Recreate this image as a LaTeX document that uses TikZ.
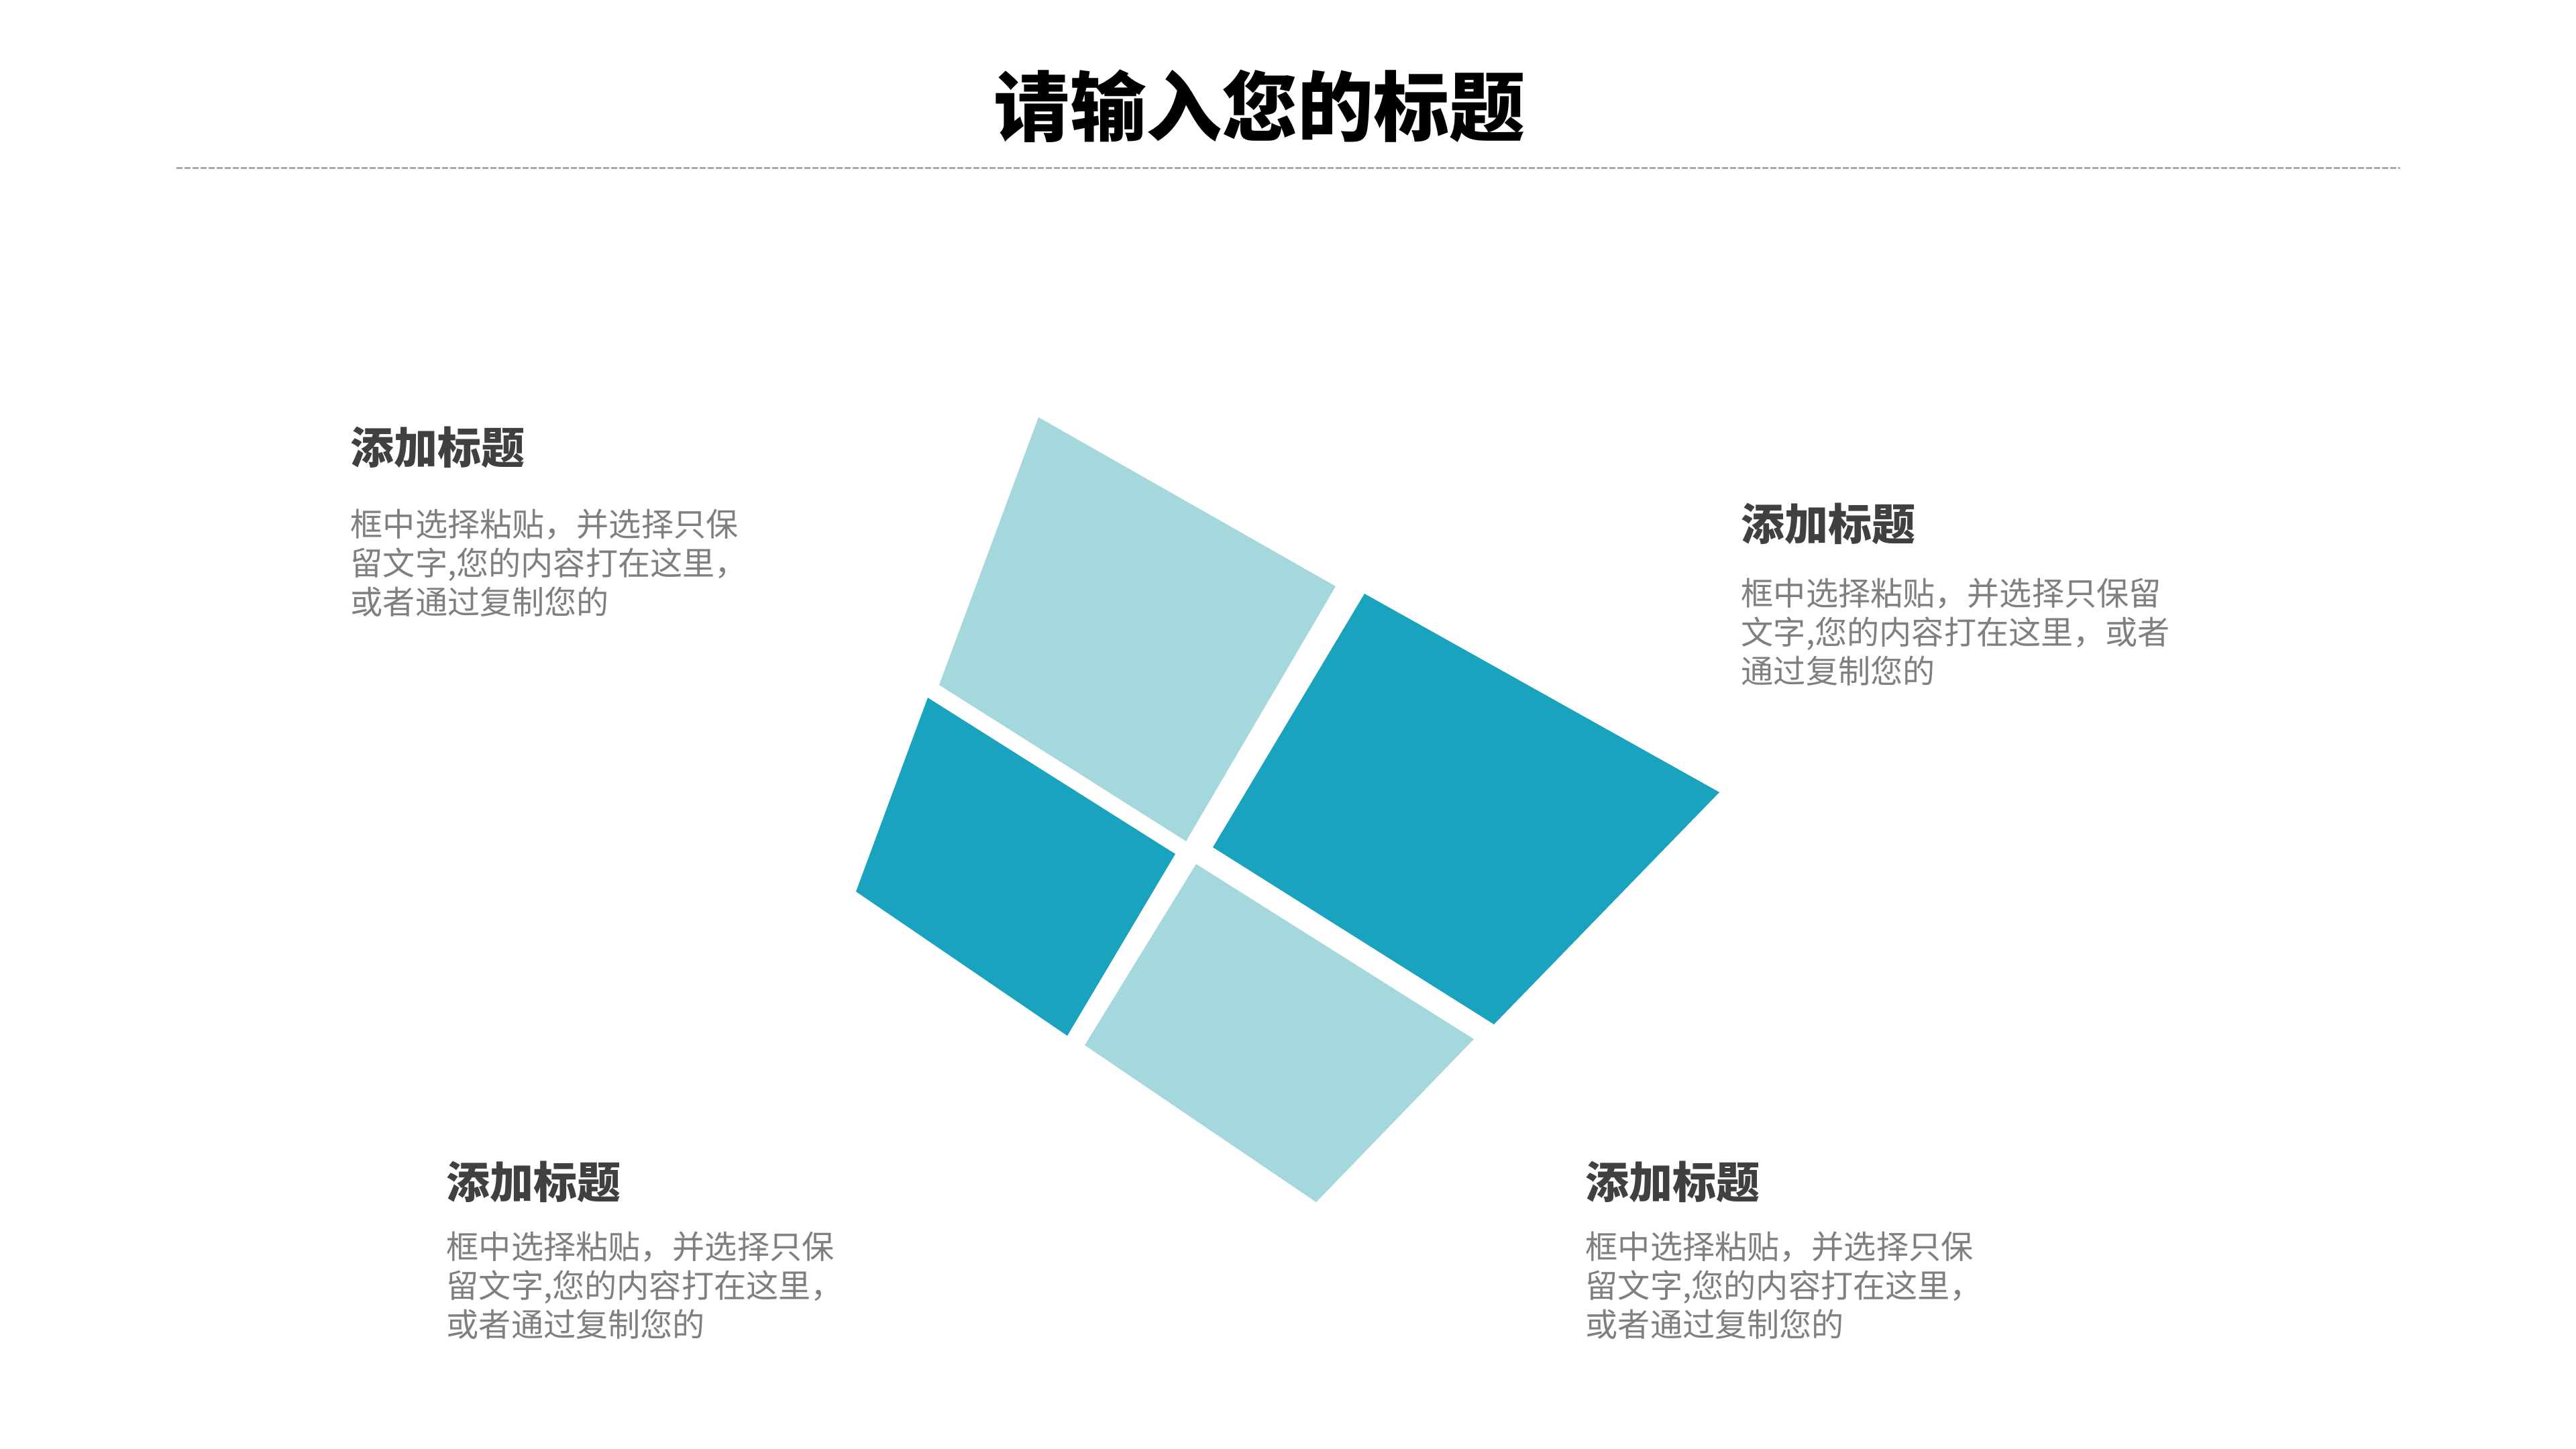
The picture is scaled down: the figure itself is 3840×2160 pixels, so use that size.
\documentclass[tikz,border=0pt]{standalone}
\usepackage{fontspec}
\newfontfamily\cjk{Noto Sans CJK SC}
\definecolor{palecyan}{RGB}{165,216,220}
\definecolor{deepcyan}{RGB}{26,163,190}
\definecolor{headgray}{RGB}{64,64,64}
\definecolor{bodygray}{RGB}{127,127,127}
\definecolor{rulegray}{RGB}{170,170,170}

\begin{document}
\begin{tikzpicture}[x=0.1mm, y=-0.1mm,
    pale/.style = {fill=palecyan},
    deep/.style = {fill=deepcyan},
    heading/.style = {anchor=west, inner sep=0, text=headgray, font=\cjk\bfseries\fontsize{18.5}{22}\selectfont},
    blurb/.style = {anchor=west, inner sep=0, align=left, text=bodygray, font=\cjk\fontsize{13.7}{16.5}\selectfont},
    rule/.style = {draw=rulegray, line width=0.3mm, dash pattern=on 0.9mm off 0.3mm}]

    \fill[white] (0, 0) rectangle (3840, 2160);
    \useasboundingbox (0, 0) rectangle (3840, 2160);

    \node[inner sep=0, font=\cjk\bfseries\fontsize{32.2}{38}\selectfont] (title) at (1878, 158) {请输入您的标题};
    \coordinate (ruleL) at (263, 250);
    \coordinate (ruleR) at (3578, 250);
    \draw[rule] (ruleL) -- (ruleR);

    % tiles
    \fill[pale] (1548, 622) -- (1991, 874) -- (1768, 1254) -- (1400, 1021) -- cycle;
    \fill[deep] (1383, 1040) -- (1752, 1273) -- (1591, 1544) -- (1276, 1329) -- cycle;
    \fill[deep] (2034, 885) -- (2563, 1181) -- (2227, 1527) -- (1808, 1263) -- cycle;
    \fill[pale] (1783, 1288) -- (2197, 1549) -- (1962, 1792) -- (1617, 1558) -- cycle;

    % text blocks
    \node[heading] (h1) at (522, 667) {添加标题};
    \node[blurb] (b1) at (522, 839) {框中选择粘贴，并选择只保\\留文字,您的内容打在这里，\\或者通过复制您的};

    \node[heading] (h2) at (2595, 781) {添加标题};
    \node[blurb] (b2) at (2595, 942) {框中选择粘贴，并选择只保留\\文字,您的内容打在这里，或者\\通过复制您的};

    \node[heading] (h3) at (665, 1762) {添加标题};
    \node[blurb] (b3) at (665, 1916) {框中选择粘贴，并选择只保\\留文字,您的内容打在这里，\\或者通过复制您的};

    \node[heading] (h4) at (2363, 1762) {添加标题};
    \node[blurb] (b4) at (2363, 1916) {框中选择粘贴，并选择只保\\留文字,您的内容打在这里，\\或者通过复制您的};

\end{tikzpicture}
\end{document}
